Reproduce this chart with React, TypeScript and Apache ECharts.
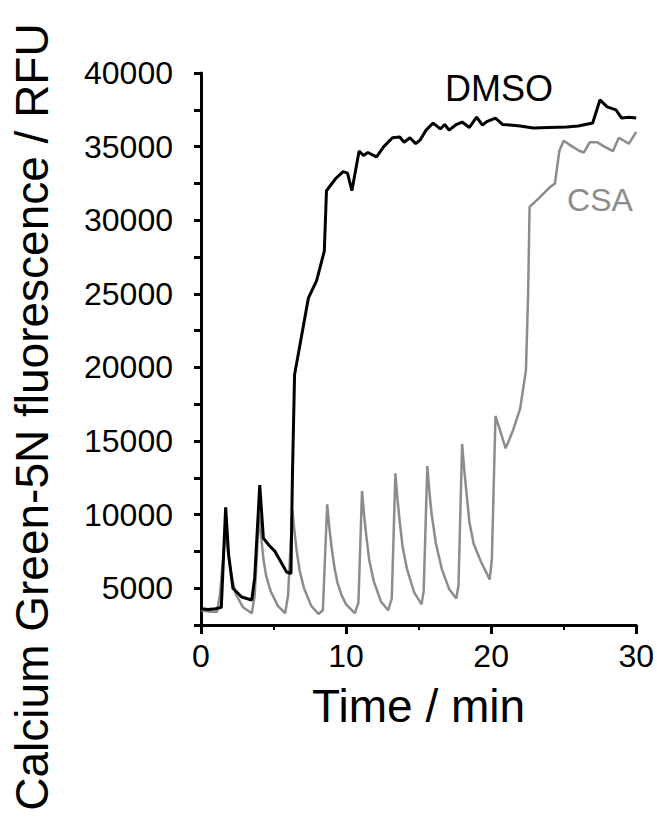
import React, { useEffect, useRef } from "react";
import * as echarts from "echarts";

const xTicks = [0, 10, 20, 30];
const yTickLabels = [5000, 10000, 15000, 20000, 25000, 30000, 35000, 40000];

const dmsoTime = [0, 0.5, 1.0, 1.4, 1.7, 1.9, 2.2, 2.8, 3.5, 3.7, 4.05, 4.3, 4.7, 5.1, 5.5, 5.9, 6.2, 6.3, 6.45, 7.0, 7.4, 7.97, 8.5, 8.65, 9.3, 9.8, 10.1, 10.4, 10.9, 11.2, 11.5, 12.1, 12.6, 13.2, 13.7, 14.0, 14.4, 14.8, 15.1, 15.5, 16.0, 16.5, 16.8, 17.1, 17.6, 18.0, 18.5, 19.0, 19.4, 19.7, 20.3, 20.8, 21.3, 22.0, 22.9, 24.0, 25.2, 26.0, 27.0, 27.5, 28.0, 28.6, 29.0, 29.5, 30];
const dmsoValue = [3600, 3550, 3600, 3700, 10500, 7300, 5000, 4400, 4200, 5700, 12000, 8400, 7900, 7500, 6800, 6100, 6000, 12500, 19500, 22500, 24700, 25900, 27900, 32000, 32850, 33300, 33200, 32000, 34700, 34400, 34600, 34300, 35000, 35600, 35650, 35300, 35600, 35200, 35440, 36100, 36600, 36200, 36500, 36120, 36500, 36670, 36300, 37000, 36460, 36700, 36940, 36500, 36460, 36400, 36260, 36300, 36330, 36400, 36600, 38170, 37700, 37490, 36940, 37000, 36940];

const csaTime = [0, 0.6, 1.1, 1.3, 1.7, 1.85, 2.0, 2.2, 2.4, 2.9, 3.5, 3.7, 4.0, 4.15, 4.3, 4.5, 4.8, 5.3, 5.8, 6.0, 6.3, 6.45, 6.6, 6.8, 7.1, 7.6, 8.1, 8.4, 8.7, 8.85, 9.0, 9.2, 9.4, 9.7, 10.0, 10.6, 10.85, 11.1, 11.25, 11.4, 11.6, 11.9, 12.4, 12.9, 13.15, 13.4, 13.55, 13.7, 13.9, 14.2, 14.7, 15.2, 15.35, 15.6, 15.75, 15.9, 16.2, 16.6, 17.1, 17.6, 17.75, 18.0, 18.15, 18.3, 18.5, 18.8, 19.3, 19.9, 20.05, 20.3, 21.0, 21.5, 22.0, 22.4, 22.55, 22.65, 23.3, 24.0, 24.4, 24.7, 25.0, 25.6, 26.1, 26.4, 26.8, 27.3, 27.8, 28.4, 28.8, 29.5, 30];
const csaValue = [3500, 3400, 3400, 4500, 9000, 7600, 6500, 5400, 4600, 3700, 3300, 4500, 10000, 8500, 7000, 5800, 4800, 3800, 3300, 4500, 10300, 8800, 7500, 6200, 5000, 3800, 3250, 3500, 10700, 9100, 7800, 6400, 5400, 4500, 3900, 3300, 4000, 11600, 9900, 8500, 6900, 5500, 4100, 3500, 4300, 12800, 11000, 9500, 7800, 6300, 4700, 3900, 4800, 13300, 11500, 10000, 8000, 6300, 4950, 4300, 5200, 14800, 13000, 11500, 9500, 8000, 6800, 5600, 7000, 16700, 14500, 15700, 17200, 19800, 25000, 30900, 31500, 32200, 32500, 34700, 35400, 35000, 34700, 34600, 35300, 35300, 35000, 34700, 35600, 35200, 36000];

const FONT = "'Liberation Sans', Arial, Helvetica, sans-serif";

export default function App() {
  const ref = useRef<HTMLDivElement>(null);
  useEffect(() => {
    if (!ref.current) return;
    const chart = echarts.init(ref.current, null, { renderer: "svg" });
    const dmso = dmsoTime.map((t, i) => [t, dmsoValue[i]]);
    const csa = csaTime.map((t, i) => [t, csaValue[i]]);
    chart.setOption({
      animation: false,
      backgroundColor: "#ffffff",
      grid: { left: 201, right: 20, top: 73, bottom: 208 },
      xAxis: {
        type: "value",
        min: 0,
        max: 30,
        interval: 10,
        name: "Time / min",
        nameLocation: "middle",
        nameGap: 58,
        nameTextStyle: { fontFamily: FONT, fontSize: 46, color: "#000" },
        axisLine: { show: true, onZero: false, lineStyle: { color: "#000", width: 3 } },
        axisTick: { show: true, length: 9, lineStyle: { color: "#000", width: 3 } },
        minorTick: { show: true, splitNumber: 2, length: 5, lineStyle: { color: "#000", width: 2 } },
        splitLine: { show: false },
        axisLabel: {
          margin: 15,
          fontFamily: FONT,
          fontSize: 32,
          color: "#000",
          formatter: (v: number) => (xTicks.includes(v) ? String(v) : ""),
        },
      },
      yAxis: {
        type: "value",
        min: 2500,
        max: 40000,
        interval: 2500,
        axisLine: { show: true, onZero: false, lineStyle: { color: "#000", width: 3 } },
        axisTick: { show: true, length: 7, lineStyle: { color: "#000", width: 3 } },
        splitLine: { show: false },
        axisLabel: {
          margin: 28,
          fontFamily: FONT,
          fontSize: 32,
          color: "#000",
          formatter: (v: number) => (yTickLabels.includes(v) ? String(v) : ""),
        },
      },
      graphic: [
        {
          type: "text",
          x: 32,
          y: 417,
          rotation: Math.PI / 2,
          style: {
            text: "Calcium Green-5N fluorescence / RFU",
            fontFamily: FONT,
            fontSize: 46,
            fill: "#000",
            textAlign: "center",
            textVerticalAlign: "middle",
          },
        },
        {
          type: "text",
          x: 499,
          y: 88,
          style: {
            text: "DMSO",
            fontFamily: FONT,
            fontSize: 36,
            fill: "#000",
            textAlign: "center",
            textVerticalAlign: "middle",
          },
        },
        {
          type: "text",
          x: 600,
          y: 200,
          style: {
            text: "CSA",
            fontFamily: FONT,
            fontSize: 32,
            fill: "#8c8c8c",
            textAlign: "center",
            textVerticalAlign: "middle",
          },
        },
      ],
      series: [
        {
          name: "CSA",
          type: "line",
          data: csa,
          showSymbol: false,
          symbol: "none",
          lineStyle: { color: "#8c8c8c", width: 2.5 },
          z: 2,
        },
        {
          name: "DMSO",
          type: "line",
          data: dmso,
          showSymbol: false,
          symbol: "none",
          lineStyle: { color: "#000", width: 3 },
          z: 3,
        },
      ],
    });
    return () => chart.dispose();
  }, []);
  return (
    <div
      ref={ref}
      style={{ position: "fixed", left: 0, top: 0, width: 657, height: 833 }}
    />
  );
}
